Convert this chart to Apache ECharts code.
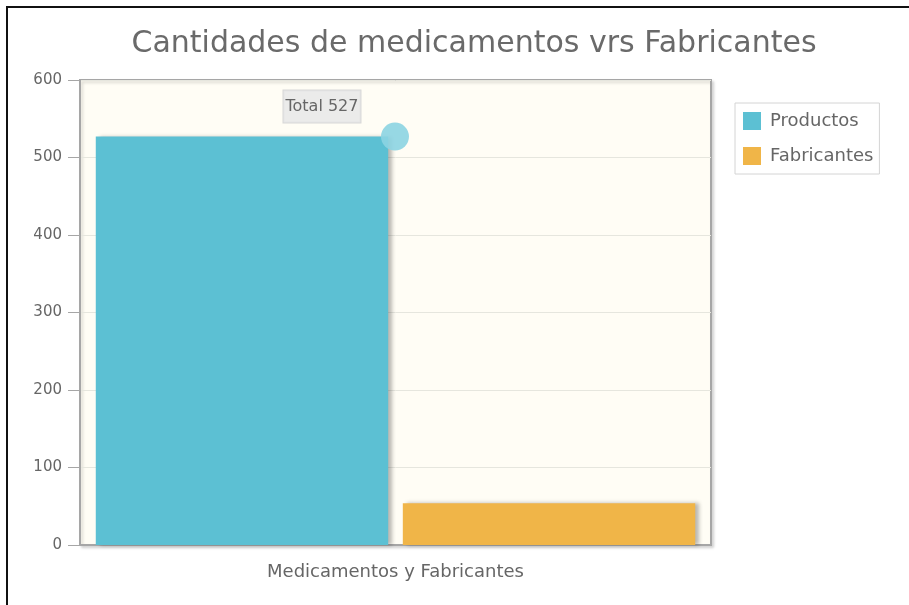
<!DOCTYPE html>
<html>
<head>
<meta charset="utf-8">
<script src="https://cdn.jsdelivr.net/npm/echarts@6/dist/echarts.min.js"></script>
<style>
  html, body { margin: 0; padding: 0; background: #ffffff; }
  #frame { position: absolute; left: 6px; top: 6px; width: 903px; height: 599px;
           border-top: 2px solid #111; border-left: 2px solid #111; box-sizing: border-box; }
  #chart { position: absolute; left: 0; top: 0; width: 909px; height: 605px; }
</style>
</head>
<body>
<div id="frame"></div>
<div id="chart"></div>
<script>
const titleText = 'Cantidades de medicamentos vrs Fabricantes';
const categories = ['Medicamentos y Fabricantes'];
const seriesNames = ['Productos', 'Fabricantes'];
const productos = [527];
const fabricantes = [54];
const yTicks = { min: 0, max: 600, interval: 100 };

const chart = echarts.init(document.getElementById('chart'));
const font = 'DejaVu Sans';

const barShadow = {
  shadowColor: 'rgba(0,0,0,0.28)',
  shadowBlur: 4,
  shadowOffsetX: 4,
  shadowOffsetY: 0
};

chart.setOption({
  animation: false,
  textStyle: { fontFamily: font },
  title: {
    text: titleText,
    left: 469,
    top: 24,
    textAlign: 'center',
    textStyle: { fontFamily: font, fontSize: 30, fontWeight: 'normal', color: '#6a6a6a' }
  },
  legend: {
    orient: 'vertical',
    left: 735,
    top: 103,
    padding: [7, 6, 7, 6],
    itemGap: 13,
    itemWidth: 20,
    itemHeight: 20,
    icon: 'rect',
    itemStyle: { borderColor: '#ffffff', borderWidth: 2 },
    backgroundColor: '#ffffff',
    borderColor: '#d4d4d4',
    borderWidth: 1,
    textStyle: { fontFamily: font, fontSize: 18, color: '#666666', padding: [0, 0, 0, 3] },
    data: seriesNames
  },
  grid: {
    left: 80, right: 198, top: 80, bottom: 60,
    show: true,
    backgroundColor: '#fffdf5',
    borderColor: '#a6a6a6',
    borderWidth: 2,
    shadowColor: 'rgba(0,0,0,0.15)',
    shadowBlur: 3,
    shadowOffsetX: 2,
    shadowOffsetY: 2
  },
  xAxis: {
    type: 'category',
    data: categories,
    axisLine: { lineStyle: { color: '#a6a6a6', width: 2 } },
    axisTick: { show: false },
    axisLabel: { fontFamily: font, fontSize: 18, color: '#666666', margin: 18 }
  },
  yAxis: {
    type: 'value',
    min: yTicks.min,
    max: yTicks.max,
    interval: yTicks.interval,
    axisLine: { show: true, lineStyle: { color: '#a6a6a6', width: 2 } },
    axisTick: { show: true, length: 12, lineStyle: { color: '#a6a6a6' } },
    axisLabel: { fontFamily: font, fontSize: 15, color: '#666666', margin: 18 },
    splitLine: { lineStyle: { color: '#e6e6de', width: 1 } }
  },
  series: [
    {
      name: seriesNames[0],
      type: 'bar',
      data: productos,
      barGap: '5%',
      barCategoryGap: '5%',
      itemStyle: Object.assign({ color: '#5cc0d3' }, barShadow),
      markPoint: {
        data: [{ type: 'max' }],
        symbol: 'circle',
        symbolSize: 28,
        symbolOffset: [153, 0],
        itemStyle: { color: 'rgba(140,212,226,0.9)' },
        label: {
          show: true,
          position: 'inside',
          offset: [-73, -30],
          formatter: 'Total {c}',
          fontFamily: font,
          fontSize: 16,
          color: '#666666',
          backgroundColor: 'rgba(232,232,232,0.85)',
          borderColor: '#d8d8d8',
          borderWidth: 1,
          padding: [8, 2, 8, 2]
        }
      }
    },
    {
      name: seriesNames[1],
      type: 'bar',
      data: fabricantes,
      barGap: '5%',
      barCategoryGap: '5%',
      itemStyle: Object.assign({ color: '#f0b548' }, barShadow)
    }
  ]
});
</script>
</body>
</html>
